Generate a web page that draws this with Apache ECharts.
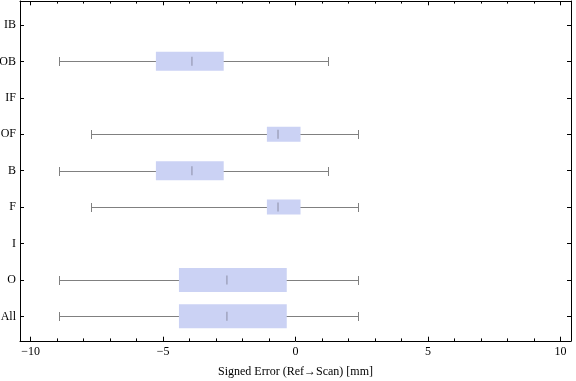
<!DOCTYPE html>
<html>
<head>
<meta charset="utf-8">
<script src="https://cdn.jsdelivr.net/npm/echarts@6/dist/echarts.min.js"></script>
<style>
html,body{margin:0;padding:0;background:#fff;}
#c{width:576px;height:381px;}
</style>
</head>
<body>
<div id="c"></div>
<script>
// ---- data ----
const categories = ['All', 'O', 'I', 'F', 'B', 'OF', 'IF', 'OB', 'IB'];
const whiskerLow  = [-8.92, -8.92, null, -7.71, -8.92, -7.71, null, -8.92, null];
const quartile1   = [-4.40, -4.40, null, -1.08, -5.27, -1.08, null, -5.27, null];
const medians     = [-2.59, -2.59, null, -0.66, -3.91, -0.66, null, -3.91, null];
const quartile3   = [-0.33, -0.33, null,  0.19, -2.71,  0.19, null, -2.71, null];
const whiskerHigh = [ 2.36,  2.36, null,  2.36,  1.24,  2.36, null,  1.24, null];
const majorTicks = [-10, -5, 0, 5, 10];
const minorTicks = [-9, -8, -7, -6, -4, -3, -2, -1, 1, 2, 3, 4, 6, 7, 8, 9];
const xTitle = 'Signed Error (Ref\u2192Scan) [mm]';

// ---- styling (not data) ----
const boxThicknessPx = { All: 24, O: 24, F: 15, B: 19, OF: 15, OB: 19 };
const FONT = 'Liberation Serif';

const boxData = [];
categories.forEach((c, i) => {
  if (medians[i] == null) return;
  boxData.push([i, whiskerLow[i], quartile1[i], medians[i], quartile3[i], whiskerHigh[i]]);
});
const catIdx = categories.map((c, i) => i);

function renderItem(params, api) {
  const ci = api.value(0);
  const lo = api.coord([api.value(1), ci]);
  const q1 = api.coord([api.value(2), ci]);
  const md = api.coord([api.value(3), ci]);
  const q3 = api.coord([api.value(4), ci]);
  const hi = api.coord([api.value(5), ci]);
  const y = Math.round(lo[1]) + 0.5;
  const h = boxThicknessPx[categories[ci]] || 20;
  const capH = 9;
  const lineStyle = { stroke: '#808080', lineWidth: 1, fill: null };
  return {
    type: 'group',
    children: [
      { type: 'line', shape: { x1: lo[0], y1: y, x2: hi[0], y2: y }, style: lineStyle },
      { type: 'line', shape: { x1: Math.round(lo[0]) + 0.5, y1: y - capH / 2, x2: Math.round(lo[0]) + 0.5, y2: y + capH / 2 }, style: lineStyle },
      { type: 'line', shape: { x1: Math.round(hi[0]) + 0.5, y1: y - capH / 2, x2: Math.round(hi[0]) + 0.5, y2: y + capH / 2 }, style: lineStyle },
      { type: 'rect', shape: { x: q1[0], y: lo[1] - h / 2, width: q3[0] - q1[0], height: h }, style: { fill: '#cbd2f4' } },
      { type: 'line', shape: { x1: md[0], y1: lo[1] - 4.5, x2: md[0], y2: lo[1] + 4.5 }, style: { stroke: 'rgba(120,120,140,0.55)', lineWidth: 1.4 } }
    ]
  };
}

const xMin = -10.4, xMax = 10.4;
const yMin = -0.676, yMax = 8.657;
const fmtMinus = v => String(v).replace('-', '\u2212');

function xAxisDef(pos, ticks, len, withLabel, withLine, extra) {
  return Object.assign({
    type: 'value', position: pos, min: xMin, max: xMax,
    axisLine: { show: withLine, onZero: false, lineStyle: { color: '#000', width: 1 } },
    axisTick: { show: true, inside: true, length: len, customValues: ticks, lineStyle: { color: '#000', width: 1 } },
    axisLabel: withLabel ? { show: true, customValues: majorTicks, formatter: fmtMinus, margin: 5, color: '#000', fontFamily: FONT, fontSize: 12 } : { show: false },
    splitLine: { show: false }
  }, extra || {});
}
function yAxisDef(pos, withLabel) {
  return {
    type: 'value', position: pos, min: yMin, max: yMax,
    axisLine: { show: true, onZero: false, lineStyle: { color: '#000', width: 1 } },
    axisTick: { show: true, inside: true, length: 4, customValues: catIdx, lineStyle: { color: '#000', width: 1 } },
    axisLabel: withLabel ? { show: true, customValues: catIdx, formatter: v => categories[Math.round(v)], margin: 4, color: '#000', fontFamily: FONT, fontSize: 12 } : { show: false },
    splitLine: { show: false }
  };
}

const chart = echarts.init(document.getElementById('c'), null, { renderer: 'canvas' });
chart.setOption({
  animation: false,
  backgroundColor: '#fff',
  grid: { left: 20, right: 5, top: 1, bottom: 40, containLabel: false, outerBoundsMode: 'none' },
  xAxis: [
    xAxisDef('bottom', majorTicks, 4.3, true, true, {
      name: xTitle, nameLocation: 'middle', nameGap: 25,
      nameTextStyle: { color: '#000', fontFamily: FONT, fontSize: 12 }
    }),
    xAxisDef('bottom', minorTicks, 2.6, false, false),
    xAxisDef('top', majorTicks, 4.3, false, true),
    xAxisDef('top', minorTicks, 2.6, false, false)
  ],
  yAxis: [yAxisDef('left', true), yAxisDef('right', false)],
  series: [{
    type: 'custom',
    xAxisIndex: 0, yAxisIndex: 0,
    renderItem: renderItem,
    encode: { x: [1, 2, 3, 4, 5], y: 0 },
    data: boxData,
    z: 5
  }]
});
</script>
</body>
</html>
